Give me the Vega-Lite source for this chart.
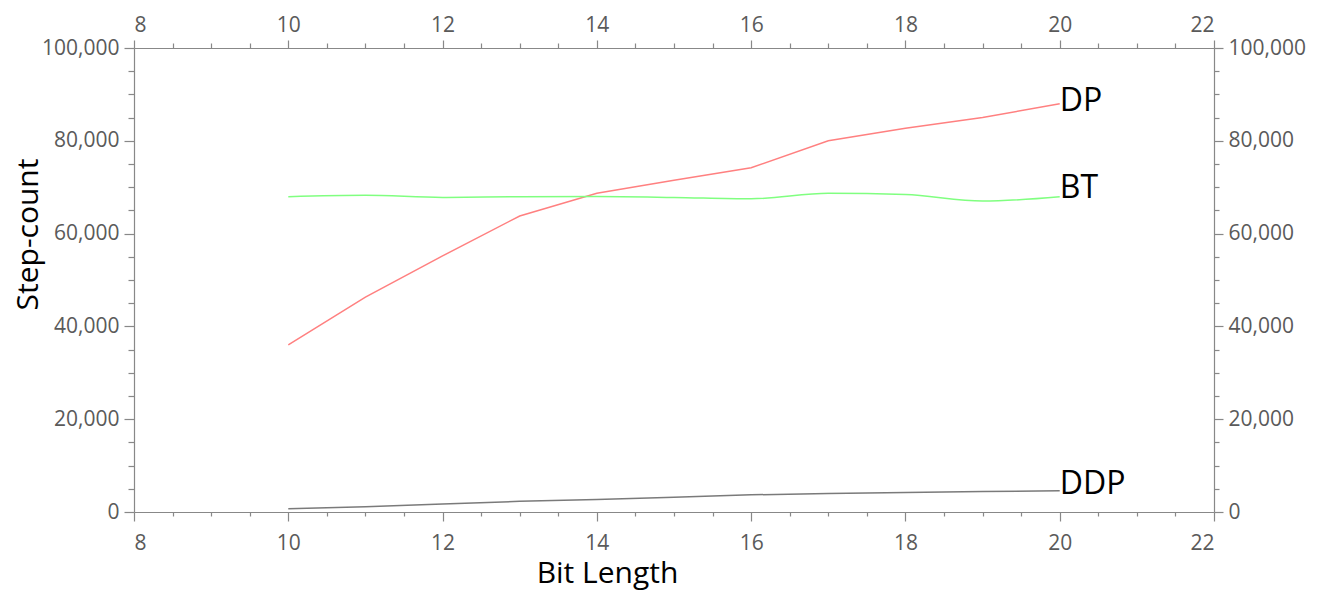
{
  "$schema": "https://vega.github.io/schema/vega-lite/v6.json",
  "width": 1080,
  "height": 464,
  "autosize": {"type": "none"},
  "padding": {"left": 134, "top": 48, "right": 113, "bottom": 78},
  "background": "white",
  "config": {
    "view": {"stroke": null},
    "axis": {
      "grid": false,
      "domainColor": "#888888",
      "tickColor": "#888888",
      "domainWidth": 1.2,
      "tickWidth": 1.2,
      "labelColor": "#5a5a5a",
      "labelFont": "Open Sans",
      "labelFontSize": 21,
      "titleFont": "Open Sans",
      "titleFontWeight": "normal",
      "titleColor": "#000000",
      "titleFontSize": 30
    }
  },
  "datasets": {
    "series": [
      {"bits": 10, "steps": 36000, "method": "DP"},
      {"bits": 11, "steps": 46300, "method": "DP"},
      {"bits": 12, "steps": 55200, "method": "DP"},
      {"bits": 13, "steps": 63800, "method": "DP"},
      {"bits": 14, "steps": 68700, "method": "DP"},
      {"bits": 15, "steps": 71500, "method": "DP"},
      {"bits": 16, "steps": 74200, "method": "DP"},
      {"bits": 17, "steps": 80000, "method": "DP"},
      {"bits": 18, "steps": 82700, "method": "DP"},
      {"bits": 19, "steps": 85000, "method": "DP"},
      {"bits": 20, "steps": 88000, "method": "DP"},
      {"bits": 10, "steps": 67950, "method": "BT"},
      {"bits": 11, "steps": 68250, "method": "BT"},
      {"bits": 12, "steps": 67800, "method": "BT"},
      {"bits": 13, "steps": 67950, "method": "BT"},
      {"bits": 14, "steps": 68000, "method": "BT"},
      {"bits": 15, "steps": 67800, "method": "BT"},
      {"bits": 16, "steps": 67500, "method": "BT"},
      {"bits": 17, "steps": 68700, "method": "BT"},
      {"bits": 18, "steps": 68400, "method": "BT"},
      {"bits": 19, "steps": 67000, "method": "BT"},
      {"bits": 20, "steps": 67950, "method": "BT"},
      {"bits": 10, "steps": 700, "method": "DDP"},
      {"bits": 11, "steps": 1150, "method": "DDP"},
      {"bits": 12, "steps": 1700, "method": "DDP"},
      {"bits": 13, "steps": 2300, "method": "DDP"},
      {"bits": 14, "steps": 2700, "method": "DDP"},
      {"bits": 15, "steps": 3200, "method": "DDP"},
      {"bits": 16, "steps": 3700, "method": "DDP"},
      {"bits": 17, "steps": 4000, "method": "DDP"},
      {"bits": 18, "steps": 4200, "method": "DDP"},
      {"bits": 19, "steps": 4400, "method": "DDP"},
      {"bits": 20, "steps": 4600, "method": "DDP"}
    ],
    "labels": [
      {"bits": 20, "steps": 88600, "name": "DP", "shift": 1},
      {"bits": 20, "steps": 69800, "name": "BT", "shift": 11},
      {"bits": 20, "steps": 6000, "name": "DDP", "shift": 3}
    ]
  },
  "layer": [
    {
      "data": {"name": "series"},
      "transform": [{"filter": "datum.method !== 'BT'"}],
      "mark": {"type": "line", "strokeWidth": 1.5},
      "encoding": {
        "x": {"field": "bits", "type": "quantitative",
              "scale": {"domain": [8, 22], "nice": false, "zero": false},
              "axis": {"orient": "bottom", "values": [8, 10, 12, 14, 16, 18, 20, 22], "tickSize": 9, "labelPadding": 11,
                       "title": "Bit Length", "titleX": 473, "titleY": 70, "titleBaseline": "alphabetic", "titleAnchor": null, "titleAlign": "center"}},
        "y": {"field": "steps", "type": "quantitative",
              "scale": {"domain": [0, 100000], "nice": false},
              "axis": {"orient": "left", "values": [0, 20000, 40000, 60000, 80000, 100000], "labelExpr": "format(datum.value, ',')", "tickSize": 10, "labelPadding": 5,
                       "title": "Step-count", "titleX": -97, "titleY": 186, "titleAngle": -90, "titleBaseline": "alphabetic", "titleAlign": "center", "titleAnchor": null}},
        "color": {"field": "method", "type": "nominal",
                  "scale": {"domain": ["DP", "BT", "DDP"], "range": ["#ff8080", "#80ff80", "#7a7a7a"]},
                  "legend": null}
      }
    },
    {
      "data": {"name": "series"},
      "transform": [{"filter": "datum.method === 'BT'"}],
      "mark": {"type": "line", "strokeWidth": 1.5, "interpolate": "monotone", "color": "#80ff80"},
      "encoding": {
        "x": {"field": "bits", "type": "quantitative", "axis": null},
        "y": {"field": "steps", "type": "quantitative", "axis": null}
      }
    },
    {
      "data": {"name": "labels"},
      "mark": {"type": "text", "align": "left", "baseline": "middle", "font": "Open Sans", "fontSize": 32, "color": "#000000"},
      "encoding": {
        "x": {"field": "bits", "type": "quantitative",
              "axis": {"orient": "top", "values": [8, 10, 12, 14, 16, 18, 20, 22], "tickSize": 8, "labelPadding": 5, "title": null}},
        "y": {"field": "steps", "type": "quantitative",
              "axis": {"orient": "right", "values": [0, 20000, 40000, 60000, 80000, 100000], "labelExpr": "format(datum.value, ',')", "tickSize": 9, "labelPadding": 5, "title": null}},
        "xOffset": {"field": "shift", "type": "quantitative", "scale": {"type": "identity"}},
        "text": {"field": "name"}
      }
    },
    {
      "data": {"name": "series"},
      "mark": {"type": "line", "strokeOpacity": 0},
      "encoding": {
        "x": {"field": "bits", "type": "quantitative",
              "axis": {"orient": "bottom", "values": [8.5, 9, 9.5, 10.5, 11, 11.5, 12.5, 13, 13.5, 14.5, 15, 15.5, 16.5, 17, 17.5, 18.5, 19, 19.5, 20.5, 21, 21.5], "tickSize": 4, "labels": false, "domain": false, "title": null}},
        "y": {"field": "steps", "type": "quantitative",
              "axis": {"orient": "left", "values": [5000, 10000, 15000, 25000, 30000, 35000, 45000, 50000, 55000, 65000, 70000, 75000, 85000, 90000, 95000], "tickSize": 6, "labels": false, "domain": false, "title": null}}
      }
    },
    {
      "data": {"name": "series"},
      "mark": {"type": "line", "strokeOpacity": 0},
      "encoding": {
        "x": {"field": "bits", "type": "quantitative",
              "axis": {"orient": "top", "values": [8.5, 9, 9.5, 10.5, 11, 11.5, 12.5, 13, 13.5, 14.5, 15, 15.5, 16.5, 17, 17.5, 18.5, 19, 19.5, 20.5, 21, 21.5], "tickSize": 5, "labels": false, "domain": false, "title": null}},
        "y": {"field": "steps", "type": "quantitative",
              "axis": {"orient": "right", "values": [5000, 10000, 15000, 25000, 30000, 35000, 45000, 50000, 55000, 65000, 70000, 75000, 85000, 90000, 95000], "tickSize": 5, "labels": false, "domain": false, "title": null}}
      }
    }
  ],
  "resolve": {"scale": {"x": "shared", "y": "shared", "color": "independent"}, "axis": {"x": "independent", "y": "independent"}}
}
